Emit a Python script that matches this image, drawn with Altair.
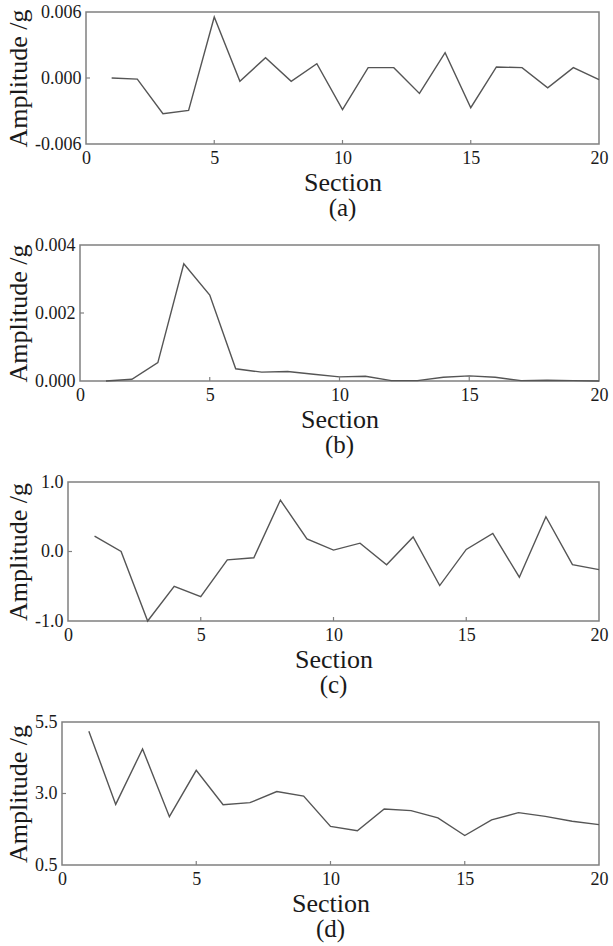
import altair as alt
import pandas as pd

sections = list(range(1, 21))
amp_a = [0.0000, -0.0001, -0.00324, -0.00294, 0.00555, -0.0003, 0.00185, -0.0003,
         0.0013, -0.00288, 0.00094, 0.00094, -0.0014, 0.0023, -0.0027, 0.0010,
         0.00094, -0.0009, 0.00094, -0.00015]
amp_b = [0.0, 0.00005, 0.00054, 0.00345, 0.00253, 0.00036, 0.00026, 0.00028,
         0.0002, 0.00012, 0.00014, 0.00001, 0.00001, 0.00011, 0.00015, 0.00011,
         0.00001, 0.00002, 0.00001, 0.0]
amp_c = [0.22, 0.0, -1.0, -0.50, -0.65, -0.12, -0.09, 0.74, 0.18, 0.02, 0.12,
         -0.19, 0.21, -0.49, 0.03, 0.26, -0.37, 0.50, -0.19, -0.26]
amp_d = [5.18, 2.62, 4.56, 2.19, 3.81, 2.61, 2.68, 3.07, 2.91, 1.85, 1.70,
         2.46, 2.40, 2.15, 1.53, 2.08, 2.33, 2.20, 2.03, 1.91]

x_ticks = [0, 5, 10, 15, 20]
y_ticks_a = [-0.006, 0.0, 0.006]
y_ticks_b = [0.0, 0.002, 0.004]
y_ticks_c = [-1.0, 0.0, 1.0]
y_ticks_d = [0.5, 3.0, 5.5]
labels = ["(a)", "(b)", "(c)", "(d)"]

FONT = "Liberation Serif, Times New Roman, serif"
TXT = "#1a1a1a"
FRAME = "#808080"
LINE = "#555555"


def spacer(w):
    return alt.Chart(pd.DataFrame({"v": [0]})).mark_rule(
        strokeOpacity=0, strokeWidth=0.1).encode(
        x=alt.value(0), y=alt.value(0), y2=alt.value(1)
    ).properties(width=w, height=10, view=alt.ViewBackground(strokeOpacity=0))


def panel(vals, yticks, fmt, letter, width, height):
    df = pd.DataFrame({"Section": sections, "Amp": vals})
    x = alt.X("Section:Q",
              scale=alt.Scale(domain=[x_ticks[0], x_ticks[-1]], nice=False, zero=False),
              axis=alt.Axis(values=x_ticks, title="Section", format="d"))
    y = alt.Y("Amp:Q",
              scale=alt.Scale(domain=[yticks[0], yticks[-1]], nice=False, zero=False),
              axis=alt.Axis(values=yticks, format=fmt, title="Amplitude /g",
                            labelExpr="replace(datum.label, '\u2212', '-')"))
    line = alt.Chart(df).mark_line(color=LINE, strokeWidth=1.4).encode(x=x, y=y)
    xt = alt.Chart(pd.DataFrame({"Section": x_ticks[1:-1]})).mark_rule(
        color=FRAME, strokeWidth=1.2).encode(
        x=x, y=alt.value(height), y2=alt.value(height - 4))
    yt = alt.Chart(pd.DataFrame({"Amp": yticks[1:-1]})).mark_rule(
        color=FRAME, strokeWidth=1.2).encode(
        y=y, x=alt.value(0), x2=alt.value(4))
    layered = alt.layer(line, xt, yt).properties(
        width=width, height=height,
        title=alt.TitleParams(letter, orient="bottom", anchor="middle",
                              font=FONT, fontSize=25, fontWeight="normal",
                              color=TXT, offset=1),
    )
    return alt.hconcat(spacer(2), layered, spacing=0)


pa = panel(amp_a, y_ticks_a, ".3f", labels[0], 513, 132)
pb = panel(amp_b, y_ticks_b, ".3f", labels[1], 519, 136)
pc = panel(amp_c, y_ticks_c, ".1f", labels[2], 531, 139)
pd_ = panel(amp_d, y_ticks_d, ".1f", labels[3], 537, 143)

chart = alt.vconcat(pa, pb, pc, pd_, spacing=13).properties(
    padding={"left": 2, "top": 2, "right": 0, "bottom": 0},
    background="white",
).configure_view(
    stroke=FRAME, strokeWidth=1.5
).configure_axis(
    domain=False, ticks=False, grid=False,
    labelFont=FONT, labelFontSize=18, labelColor=TXT, labelFlush=False,
    labelOverlap=False, labelPadding=5,
    titleFont=FONT, titleFontSize=26, titleFontWeight="normal", titleColor=TXT,
).configure_axisY(
    titlePadding=3
).configure_axisX(
    titlePadding=2
)

chart.save("out.html", embed_options={"renderer": "svg", "actions": False})
